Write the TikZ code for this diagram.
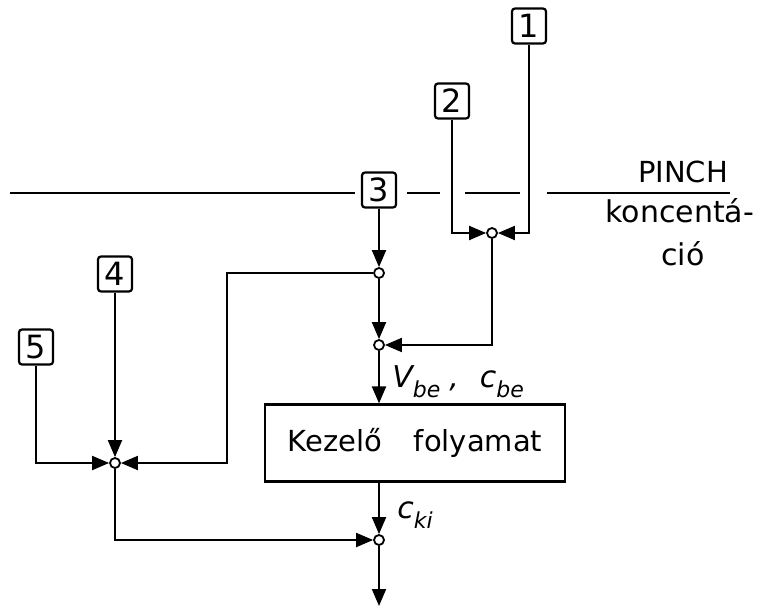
\documentclass[tikz,border=0pt]{standalone}
\usepackage{fontspec}
\setmainfont{DejaVu Sans}
\usetikzlibrary{arrows.meta}
\tikzset{
  numbox/.style={draw,rounded corners=1.5pt,line width=1.1pt,minimum width=17pt,minimum height=17.5pt,inner sep=0pt,font=\fontsize{16}{18}\selectfont},
  procbox/.style={draw,line width=1.1pt,minimum width=150pt,minimum height=38.5pt,inner sep=0pt},
  junc/.style={circle,draw,fill=white,line width=0.9pt,inner sep=0pt,minimum size=5pt},
  ar/.style={-{Triangle[length=8.5pt,width=7pt]},line width=1pt},
  ln/.style={line width=1pt},
  pinchln/.style={line width=0.8pt},
  lbl/.style={font=\fontsize{15}{17}\selectfont\itshape,inner sep=0pt},
}
\newcommand{\idx}[2]{#1\raisebox{-0.35em}{\fontsize{11}{12}\selectfont #2}}

\begin{document}
\begin{tikzpicture}[x=0.5pt,y=-0.5pt,font=\fontsize{14.5}{17}\selectfont]
  \useasboundingbox (0,0) rectangle (765,610);
  % number boxes
  \node[numbox] (b1) at (529,26) {1};
  \node[numbox] (b2) at (452,101) {2};
  \node[numbox] (b3) at (379,190) {3};
  \node[numbox] (b4) at (115,274) {4};
  \node[numbox] (b5) at (36,347) {5};
  % pinch line
  \foreach \xa/\xb in {10/355,407/440,465/520,547/730}
    \draw[pinchln] (\xa,193) -- (\xb,193);
  \node[anchor=base,inner sep=0pt] (pinch) at (683,182) {PINCH};
  \node[anchor=base west,inner sep=0pt,font=\fontsize{15}{17}\selectfont] (konc) at (605,222) {koncentá-};
  \node[anchor=base,inner sep=0pt,font=\fontsize{15}{17}\selectfont] (cio) at (683,265) {ció};
  % junctions
  \node[junc] (j1) at (492,233) {};
  \node[junc] (ja) at (379,273) {};
  \node[junc] (jb) at (379,345) {};
  \node[junc] (jc) at (115,463) {};
  \node[junc] (jd) at (379,540) {};
  \node[procbox] (proc) at (415,443) {Kezelő\hspace{1.1em}folyamat};
  \coordinate (lp) at (227,463);
  \coordinate (out) at (379,606);
  % streams
  \draw[ar] (b1) |- (j1);
  \draw[ar] (b2) |- (j1);
  \draw[ar] (j1) |- (jb);
  \draw[ar] (b3) -- (ja);
  \draw[ar] (ja) -- (jb);
  \draw[ar] (jb) -- (jb |- proc.north);
  \draw[ar] (ja) -| (lp) -- (jc);
  \draw[ar] (b4) -- (jc);
  \draw[ar] (b5) |- (jc);
  \draw[ar] (jc) |- (jd);
  \draw[ar] (jd |- proc.south) -- (jd);
  \draw[ar] (jd) -- (out);
  % labels
  \node[lbl,anchor=base west] (vbe) at (392,387) {\idx{V}{be}\hspace{0.3em},\hspace{0.7em}\idx{c}{be}};
  \node[lbl,anchor=base west] (cki) at (397,518) {\idx{c}{ki}};
\end{tikzpicture}
\end{document}
